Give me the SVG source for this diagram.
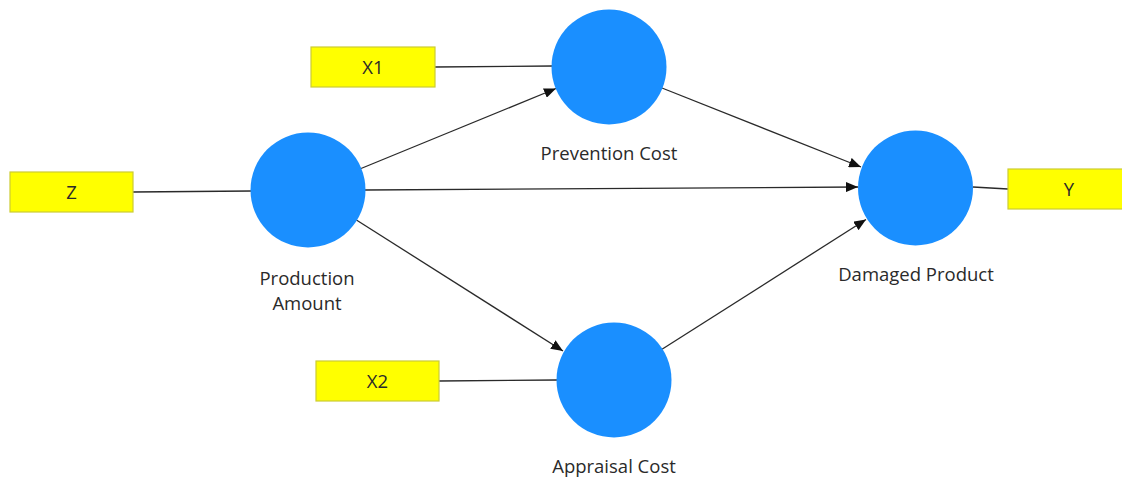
<svg xmlns="http://www.w3.org/2000/svg" width="1122" height="481" viewBox="0 0 1122 481">
<style>
.node circle{fill:#1a8fff;}
.box rect{fill:#ffff00;stroke:#cccc33;stroke-width:1.2;}
text{font-family:"Open Sans","Noto Sans","Liberation Sans",sans-serif;font-size:18.5px;fill:#2a2a2a;text-anchor:middle;}
.conn line{stroke:#2a2a2a;stroke-width:1.3;fill:none;}
.arr{marker-end:url(#ah);}
</style>
<defs>
<marker id="ah" viewBox="0 0 12 10" refX="12" refY="5" markerWidth="12" markerHeight="10" markerUnits="userSpaceOnUse" orient="auto">
<path d="M0,0 L12,5 L0,10 Z" fill="#111"/>
</marker>
</defs>
<rect width="1122" height="481" fill="#ffffff"/>
<g id="connectors" class="conn">
<line x1="133" y1="192" x2="251" y2="191"/>
<line x1="435" y1="67" x2="553" y2="66"/>
<line x1="439" y1="381" x2="557" y2="380"/>
<line x1="973" y1="187" x2="1008" y2="189"/>
<line class="arr" x1="361" y1="168.5" x2="556" y2="88.5"/>
<line class="arr" x1="662" y1="88" x2="861" y2="167"/>
<line class="arr" x1="365" y1="190" x2="858" y2="187"/>
<line class="arr" x1="356.4" y1="220" x2="563" y2="351"/>
<line class="arr" x1="662" y1="349.3" x2="866" y2="219.5"/>
</g>
<g id="Z" class="box"><rect x="10" y="172" width="123" height="40"/><text x="71.5" y="198.5">Z</text></g>
<g id="X1" class="box"><rect x="311" y="47" width="124" height="40"/><text x="373" y="73.5">X1</text></g>
<g id="X2" class="box"><rect x="316" y="361" width="123" height="40"/><text x="377.5" y="387.5">X2</text></g>
<g id="Y" class="box"><rect x="1008" y="169" width="116" height="40"/><text x="1069" y="195.5">Y</text></g>
<g id="production" class="node"><circle cx="308" cy="190" r="57.5"/><text x="307" y="285">Production</text><text x="307" y="310">Amount</text></g>
<g id="prevention" class="node"><circle cx="609" cy="67" r="57.5"/><text x="609" y="160">Prevention Cost</text></g>
<g id="appraisal" class="node"><circle cx="614" cy="380" r="57.5"/><text x="614" y="473">Appraisal Cost</text></g>
<g id="damaged" class="node"><circle cx="915.5" cy="188" r="57.5"/><text x="916" y="281">Damaged Product</text></g>
</svg>
